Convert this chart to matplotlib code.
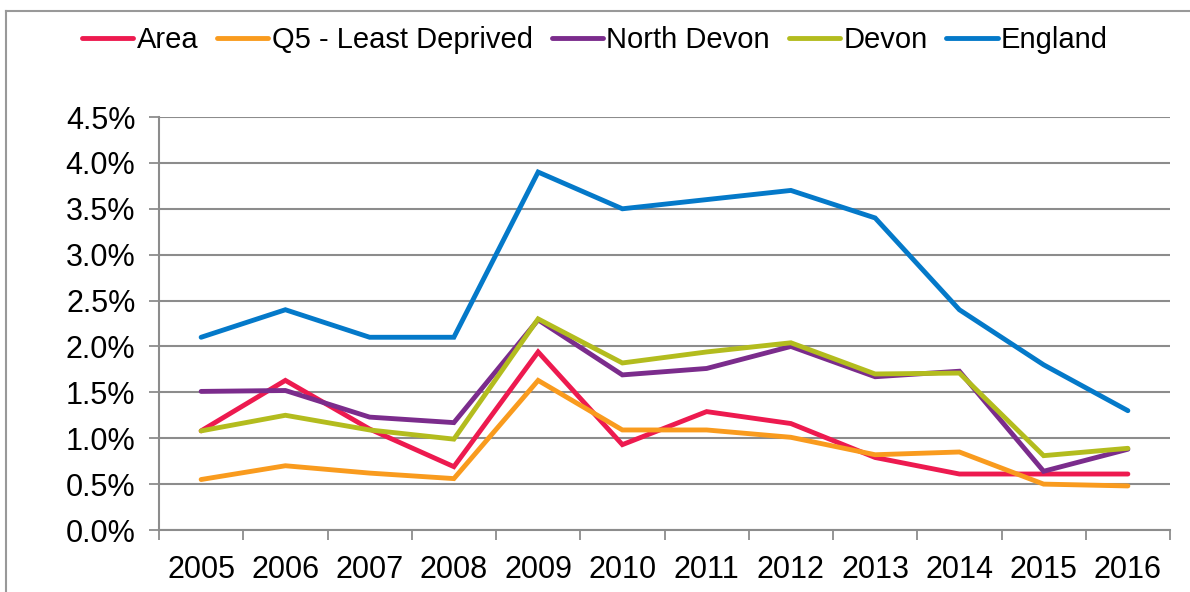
import matplotlib
matplotlib.use("Agg")
import matplotlib.pyplot as plt
from matplotlib.lines import Line2D
import numpy as np

years = ["2005", "2006", "2007", "2008", "2009", "2010", "2011", "2012", "2013", "2014", "2015", "2016"]
area = [1.08, 1.63, 1.10, 0.69, 1.94, 0.93, 1.29, 1.16, 0.79, 0.61, 0.61, 0.61]
q5 = [0.55, 0.70, 0.62, 0.56, 1.63, 1.09, 1.09, 1.01, 0.82, 0.85, 0.50, 0.48]
north_devon = [1.51, 1.52, 1.23, 1.17, 2.29, 1.69, 1.76, 2.00, 1.67, 1.73, 0.64, 0.88]
devon = [1.08, 1.25, 1.09, 0.99, 2.30, 1.82, 1.94, 2.04, 1.70, 1.71, 0.81, 0.89]
england = [2.10, 2.40, 2.10, 2.10, 3.90, 3.50, 3.60, 3.70, 3.40, 2.40, 1.80, 1.30]
y_ticks = [0.0, 0.5, 1.0, 1.5, 2.0, 2.5, 3.0, 3.5, 4.0, 4.5]

series = [
    ("Area", area, "#ED1A4F"),
    ("Q5 - Least Deprived", q5, "#F99B1E"),
    ("North Devon", north_devon, "#7B2C8C"),
    ("Devon", devon, "#B3BC1E"),
    ("England", england, "#0479C9"),
]

plt.rcParams['font.family'] = ['Liberation Sans', 'DejaVu Sans']

fig = plt.figure(figsize=(11.9, 5.92), dpi=100)
ax = fig.add_axes([159/1190, 1 - 530/592, (1170 - 159)/1190, (530 - 117)/592])

x = np.arange(len(years))
for name, vals, col in series:
    ax.plot(x, vals, color=col, lw=3.5, solid_capstyle='round', solid_joinstyle='miter', label=name)

ax.set_xlim(-0.5, len(years) - 0.5)
ax.set_ylim(0, 4.5)
ax.set_yticks(y_ticks)
ax.set_yticklabels([f"{v:.1f}%" for v in y_ticks])
ax.yaxis.grid(True, color="#8C8C8C", lw=1.5)
ax.set_axisbelow(True)

ax.set_xticks(x)
ax.set_xticklabels(years)
ax.set_xticks(np.arange(-0.5, len(years), 1.0), minor=True)
ax.tick_params(axis='x', which='major', length=0, pad=18, labelsize=22)
ax.tick_params(axis='x', which='minor', length=7, width=1.3, color="#8C8C8C", direction='out')
ax.tick_params(axis='y', which='major', length=7, width=1.3, color="#8C8C8C", pad=10, labelsize=22)

for s in ['top', 'right']:
    ax.spines[s].set_visible(False)
for s in ['left', 'bottom']:
    ax.spines[s].set_color("#8C8C8C")
    ax.spines[s].set_linewidth(1.5)

handles = [Line2D([0], [0], color=c, lw=3.5, solid_capstyle='round') for _, _, c in series]
fig.legend(handles, [n for n, _, _ in series], loc='center', bbox_to_anchor=(0.5, 1 - 40/592),
           ncol=5, frameon=False, fontsize=21, handlelength=1.75, handletextpad=0.12,
           columnspacing=0.65)

# outer chart border (left and top visible)
fig.add_artist(Line2D([6/1190, 6/1190], [0, 1 - 11/592], color="#999999", lw=1.5, transform=fig.transFigure))
fig.add_artist(Line2D([6/1190, 1], [1 - 11/592, 1 - 11/592], color="#999999", lw=1.5, transform=fig.transFigure))

fig.savefig("out.png", dpi=100)
